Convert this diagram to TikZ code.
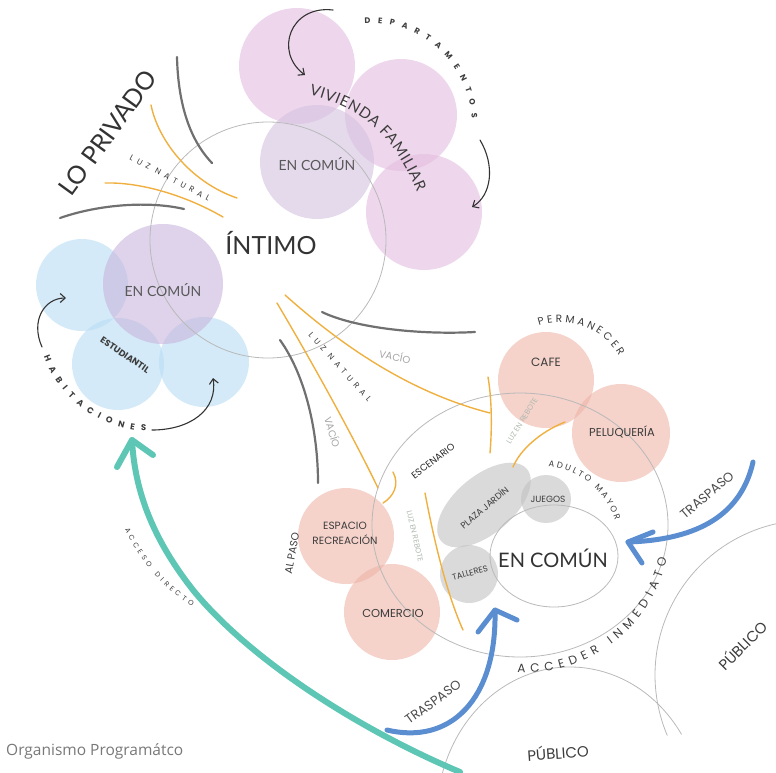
\documentclass[tikz,border=0pt]{standalone}
\usepackage{fontspec}
\setmainfont{Lato}
\newfontfamily\lab{Poppins}
\newfontfamily\labsp{Poppins}[LetterSpace=55]
\newfontfamily\hand{Lato}
\newfontfamily\capf{Open Sans}
\usetikzlibrary{arrows.meta,decorations.text,shapes.geometric}
\definecolor{vpink}{RGB}{227,188,223}
\definecolor{vpurp}{RGB}{212,194,224}
\definecolor{hblue}{RGB}{183,220,243}
\definecolor{hpurp}{RGB}{200,182,222}
\definecolor{salm}{RGB}{238,180,167}
\definecolor{blob}{RGB}{193,193,193}
\definecolor{orng}{RGB}{240,176,64}
\definecolor{dgrey}{RGB}{112,112,112}
\definecolor{lgrey}{RGB}{185,185,185}
\definecolor{teal2}{RGB}{94,198,180}
\definecolor{blu}{RGB}{91,141,209}
\definecolor{txt}{RGB}{60,60,60}
\definecolor{softg}{RGB}{165,165,165}
\definecolor{rebg}{RGB}{175,185,175}
\definecolor{capg}{RGB}{120,120,120}
\begin{document}
\begin{tikzpicture}[x=1pt,y=-1pt,
  bub/.style={circle,inner sep=0pt,draw=none,fill opacity=0.6},
  blobst/.style={inner sep=0pt,draw=none,fill=blob,fill opacity=0.6},
  thinc/.style={draw=lgrey,line width=0.8pt},
  orl/.style={draw=orng,line width=1.4pt,line cap=round},
  gl/.style={draw=dgrey,line width=2.2pt,line cap=round},
  harrow/.style={draw=black!80,line width=1.1pt,line cap=round,-{Straight Barb[length=5pt,width=9pt]}},
  tealw/.style={draw=teal2,line width=6pt,line cap=round,line join=round},
  bluew/.style={draw=blu,line width=5pt,line cap=round,line join=round},
  plab/.style={inner sep=0pt,text=txt,font={\lab\fontsize{#1}{#1}\selectfont}},
  splab/.style={inner sep=0pt,text=txt,font={\labsp\fontsize{#1}{#1}\selectfont}},
  hlab/.style={inner sep=0pt,text=txt,font={\hand\fontsize{#1}{#1}\selectfont}}
]
\useasboundingbox (0,0) rectangle (776,772);
\clip (0,0) rectangle (776,772);

% ---------- filled bubbles ----------
\node[bub,fill=vpink,minimum size=116pt] (v1) at (297,66) {};
\node[bub,fill=vpink,minimum size=112pt] (v2) at (401,115) {};
\node[bub,fill=vpink,minimum size=116pt] (v4) at (424,212) {};
\node[bub,fill=vpurp,minimum size=114pt] (v3) at (317,162) {};

\node[bub,fill=hblue,minimum size=92pt] (b1) at (82,285) {};
\node[bub,fill=hblue,minimum size=92pt] (b2) at (118,364) {};
\node[bub,fill=hblue,minimum size=90pt] (b3) at (204,362) {};
\node[bub,fill=hpurp,minimum size=120pt] (p1) at (163,284) {};

\node[bub,fill=salm,minimum size=96pt] (cafec) at (546,380) {};
\node[bub,fill=salm,minimum size=98pt] (peluc) at (621,433) {};
\node[bub,fill=salm,minimum size=96pt] (espc) at (346,536) {};
\node[bub,fill=salm,minimum size=96pt] (comc) at (392,612) {};

\node[blobst,ellipse,minimum width=112pt,minimum height=58pt,rotate=40] (plazab) at (484,505) {};
\node[blobst,ellipse,minimum width=50pt,minimum height=48pt] (juegob) at (546,499) {};
\node[blobst,ellipse,minimum width=58pt,minimum height=58pt] (tallb) at (469,574) {};

% ---------- thin grey rings ----------
\node[thinc,circle,inner sep=0pt,minimum size=236pt] (intc) at (268,240) {};
\node[thinc,ellipse,inner sep=0pt,minimum width=296pt,minimum height=264pt] (midc) at (520,525) {};
\node[thinc,ellipse,inner sep=0pt,minimum width=128pt,minimum height=102pt] (inc) at (554,556) {};
\draw[thinc] (810,675) ++(157:155) arc[start angle=157,end angle=265,radius=155];
\draw[thinc] (570,815) ++(-33:133 and 148) arc[start angle=-33,end angle=-170,x radius=133,y radius=148];

% ---------- dark grey strokes ----------
\draw[gl] (177,57) .. controls (178,100) and (188,138) .. (212,163);
\draw[gl] (60,218) .. controls (100,204) and (150,201) .. (184,209);
\draw[gl] (322,312) .. controls (355,328) and (420,335) .. (475,332);
\draw[gl] (280,340) .. controls (305,375) and (318,430) .. (318,483);

% ---------- orange strokes ----------
\draw[orl] (151,105) .. controls (158,140) and (190,182) .. (237,198);
\draw[orl] (105,183) .. controls (140,182) and (185,195) .. (223,217);
\draw[orl] (277,303) .. controls (305,350) and (350,430) .. (378,488);
\draw[orl] (285,295) .. controls (330,335) and (400,390) .. (490,413);
\draw[orl] (488,377) .. controls (492,400) and (492,430) .. (490,453);
\draw[orl] (393,472) .. controls (400,485) and (393,497) .. (383,503);
\draw[orl] (513,467) .. controls (520,450) and (540,432) .. (565,422);
\draw[orl] (425,493) .. controls (432,530) and (445,590) .. (463,630);

% ---------- thin black arrows ----------
\coordinate (va1) at (333,10);  \coordinate (va2) at (305,75);
\coordinate (vb1) at (480,140); \coordinate (vb2) at (472,207);
\coordinate (ha1) at (42,347);  \coordinate (ha2) at (66,298);
\coordinate (hb1) at (152,430); \coordinate (hb2) at (213,378);
\draw[harrow] (va1) .. controls (290,5) and (274,52) .. (va2);
\draw[harrow] (vb1) .. controls (495,165) and (492,195) .. (vb2);
\draw[harrow] (ha1) .. controls (30,320) and (45,298) .. (ha2);
\draw[harrow] (hb1) .. controls (190,430) and (218,410) .. (hb2);

% ---------- thick arrows ----------
\coordinate (ts) at (460,772); \coordinate (tm) at (193,590); \coordinate (tt) at (132,440);
\coordinate (tl) at (117,467); \coordinate (tr) at (153,455);
\draw[tealw] (ts) .. controls (360,730) and (250,660) .. (tm) .. controls (160,548) and (135,500) .. (tt);
\draw[tealw] (tl) -- (tt) -- (tr);

\coordinate (br0) at (753,462); \coordinate (brt) at (628,542);
\coordinate (bra) at (653,532); \coordinate (brb) at (642,563);
\draw[bluew] (br0) .. controls (740,520) and (690,540) .. (brt);
\draw[bluew] (bra) -- (brt) -- (brb);

\coordinate (bb0) at (387,730); \coordinate (bbt) at (495,610);
\coordinate (bba) at (478,632); \coordinate (bbb) at (517,620);
\draw[bluew] (bb0) .. controls (450,745) and (497,700) .. (bbt);
\draw[bluew] (bba) -- (bbt) -- (bbb);

% ---------- labels ----------
\node[hlab=25,rotate=54,text=black!80] (lopriv) at (108,133) {LO PRIVADO};
\node[splab=8,rotate=-28] (luz1) at (170,178) {LUZ NATURAL};
\node[hlab=25,text=black!80] (intimo) at (271,243) {ÍNTIMO};
\node[hlab=14,text=black!65] (encom1) at (317,164) {EN COMÚN};
\node[hlab=14,text=black!65] (encom2) at (163,290) {EN COMÚN};
\node[plab=9.5,rotate=-34,font={\lab\bfseries\fontsize{9}{9}\selectfont}] (estud) at (125,355) {ESTUDIANTIL};
\node[plab=10,rotate=-12,text=softg] (vacio1) at (395,356) {VACÍO};
\node[plab=10,rotate=-74,text=softg] (vacio2) at (333,432) {VACÍO};
\node[splab=8,rotate=-48] (luz2) at (340,367) {LUZ NATURAL};
\node[plab=12] (cafe) at (546,362) {CAFE};
\node[plab=11.5] (pelu) at (622,432) {PELUQUERÍA};
\node[plab=9.5,rotate=37,text=black!85] (escen) at (433,461) {ESCENARIO};
\node[plab=7.5,rotate=58,text=rebg] (reb1) at (522,421) {LUZ EN REBOTE};
\node[plab=7.5,rotate=-77,text=rebg] (reb2) at (415,536) {LUZ EN REBOTE};
\node[plab=9,rotate=40] (plaza) at (484,507) {PLAZA JARDÍN};
\node[plab=9] (juegos) at (548,499) {JUEGOS};
\node[plab=8.5,rotate=15] (talleres) at (470,573) {TALLERES};
\node[hlab=20,text=black!80] (encom3) at (553,558) {EN COMÚN};
\node[plab=10.5,align=center,font={\lab\fontsize{10.5}{15}\selectfont}] (espacio) at (345,533) {ESPACIO\\RECREACIÓN};
\node[plab=11.5] (comercio) at (393,613) {COMERCIO};
\node[plab=10.5,rotate=80] (alpaso) at (292,553) {AL PASO};
\node[plab=13,rotate=40,text=black!70] (trasp1) at (707,495) {TRASPASO};
\node[plab=13,rotate=36,text=black!70] (trasp2) at (433,702) {TRASPASO};
\node[plab=15,rotate=4] (pub1) at (558,752) {PÚBLICO};
\node[plab=15,rotate=45] (pub2) at (742,645) {PÚBLICO};
\node[inner sep=0pt,anchor=west,text=capg,font={\capf\fontsize{15.5}{16}\selectfont}] (caption) at (6,751) {Organismo Programátco};

% ---------- curved texts ----------
\path[decorate,decoration={text along path,text align={fit to path},text color=txt,
  text={|\lab\bfseries\fontsize{8}{8}\selectfont|DEPARTAMENTOS}}]
  (370,125) ++(-93:102) arc[start angle=-93,end angle=-4,radius=102];
\path[decorate,decoration={text along path,text align={fit to path},text color=txt,
  text={|\hand\fontsize{15}{15}\selectfont|VIVIENDA FAMILIAR}}]
  (309,95) .. controls (350,106) and (388,122) .. (417,192);
\path[decorate,decoration={text along path,text align={fit to path},text color=txt,
  text={|\lab\bfseries\fontsize{8.5}{8.5}\selectfont|HABITACIONES}}]
  (150,318) ++(160:113) arc[start angle=160,end angle=92,radius=113];
\path[decorate,decoration={text along path,text align={fit to path},text color=txt,
  text={|\lab\fontsize{7}{7}\selectfont|ACCESO DIRECTO}}]
  (125,529) .. controls (140,562) and (165,590) .. (192,606);
\path[decorate,decoration={text along path,text align={fit to path},text color=txt,
  text={|\lab\fontsize{12}{12}\selectfont|ACCEDER INMEDIATO}}]
  (525,528) ++(93:145) arc[start angle=93,end angle=12,radius=145];
\path[decorate,decoration={text along path,text align={fit to path},text color=txt,
  text={|\lab\fontsize{10.5}{10.5}\selectfont|PERMANECER}}]
  (560,390) ++(-108:68) arc[start angle=-108,end angle=-30,radius=68];
\path[decorate,decoration={text along path,text align={fit to path},text color=txt,
  text={|\lab\fontsize{8.5}{8.5}\selectfont|ADULTO MAYOR}}]
  (540,545) ++(-84:79) arc[start angle=-84,end angle=-18,radius=79];
\end{tikzpicture}
\end{document}
